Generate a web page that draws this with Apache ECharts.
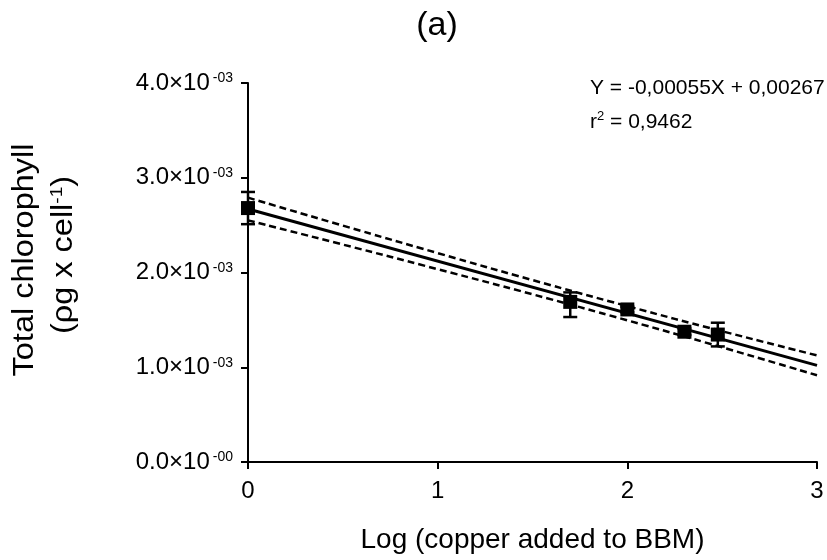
<!DOCTYPE html>
<html>
<head>
<meta charset="utf-8">
<script src="https://cdn.jsdelivr.net/npm/echarts@6/dist/echarts.min.js"></script>
<style>html,body{margin:0;padding:0;background:#fff}#c{width:827px;height:560px}</style>
</head>
<body>
<div id="c"></div>
<script>
// Data
const logCopper   = [0, 1.699, 2, 2.301, 2.477];
const chlorophyll = [0.00268, 0.00169, 0.00161, 0.001375, 0.001345];
const errLow      = [0.00251, 0.00153, 0.00158, 0.00134, 0.00122];
const errHigh     = [0.00285, 0.00179, 0.00164, 0.00141, 0.00147];

const fitX   = [0, 3];
const fitY   = [0.00267, 0.00102];
const bandX     = [0, 0.5, 1, 1.5, 2, 2.5, 3];
const bandUpper = [0.00279, 0.002495, 0.002205, 0.00192, 0.001645, 0.00138, 0.001125];
const bandLower = [0.00255, 0.002295, 0.002035, 0.00177, 0.001495, 0.00121, 0.000915];

const yTickMain = ['0.0×10', '1.0×10', '2.0×10', '3.0×10', '4.0×10'];
const yTickExp  = ['-00', '-03', '-03', '-03', '-03'];
const xTicks    = ['0', '1', '2', '3'];

const FONT = 'Liberation Sans, Arial, sans-serif';
const chart = echarts.init(document.getElementById('c'));

const zip = (a, b) => a.map((v, i) => [v, b[i]]);

chart.setOption({
  backgroundColor: '#fff',
  animation: false,
  textStyle: { fontFamily: FONT, color: '#000' },
  grid: { left: 248, right: 10, top: 83, bottom: 98, containLabel: false },
  xAxis: {
    type: 'value', min: 0, max: 3, interval: 1,
    axisLine: { onZero: false, lineStyle: { color: '#000', width: 2 } },
    axisTick: { show: true, length: 7, lineStyle: { color: '#000', width: 2 } },
    splitLine: { show: false },
    axisLabel: {
      fontSize: 24, color: '#000', fontFamily: FONT, margin: 17,
      formatter: v => xTicks[Math.round(v)]
    },
    name: 'Log (copper added to BBM)',
    nameLocation: 'middle', nameGap: 64,
    nameTextStyle: { fontSize: 28, color: '#000', fontFamily: FONT }
  },
  yAxis: {
    type: 'value', min: 0, max: 0.004, interval: 0.001,
    axisLine: { show: true, lineStyle: { color: '#000', width: 2 } },
    axisTick: { show: true, length: 7, lineStyle: { color: '#000', width: 2 } },
    splitLine: { show: false },
    axisLabel: {
      margin: 15, color: '#000', fontFamily: FONT,
      formatter: v => {
        const i = Math.round(v / 0.001);
        return '{m|' + yTickMain[i] + '}{s|' + yTickExp[i] + '}';
      },
      rich: {
        m: { fontSize: 24, fontFamily: FONT, color: '#000' },
        s: { fontSize: 14, fontFamily: FONT, color: '#000', padding: [0, 0, 9, 3] }
      }
    }
  },
  graphic: [
    { type: 'text', x: 437, y: 9, style: { text: '(a)', font: '34px Liberation Sans, Arial', fill: '#000', align: 'center' } },
    { type: 'text', x: 590, y: 78, style: { text: 'Y = -0,00055X + 0,00267', font: '21px Liberation Sans, Arial', fill: '#000' } },
    { type: 'text', x: 590, y: 110, style: {
        text: '{m|r}{s|2}{m| = 0,9462}',
        rich: {
          m: { fontSize: 21, fontFamily: FONT, fill: '#000' },
          s: { fontSize: 13, fontFamily: FONT, fill: '#000', padding: [0, 0, 11, 0] }
        }
      } },
    { type: 'text', x: 25, y: 260, rotation: Math.PI / 2, scaleX: 1.12,
      style: { text: 'Total chlorophyll', font: '29px Liberation Sans, Arial', fill: '#000', align: 'center', verticalAlign: 'middle' } },
    { type: 'text', x: 64, y: 255, rotation: Math.PI / 2, scaleX: 1.12,
      style: {
        text: '{m|(ρg x cell}{s|-1}{m|)}', align: 'center', verticalAlign: 'middle',
        rich: {
          m: { fontSize: 29, fontFamily: FONT, fill: '#000' },
          s: { fontSize: 17, fontFamily: FONT, fill: '#000', padding: [0, 0, 14, 0] }
        }
      } }
  ],
  series: [
    {
      type: 'line', data: zip(bandX, bandUpper), smooth: true, symbol: 'none',
      lineStyle: { color: '#000', width: 2.5, type: [7, 4] }, z: 2
    },
    {
      type: 'line', data: zip(bandX, bandLower), smooth: true, symbol: 'none',
      lineStyle: { color: '#000', width: 2.5, type: [7, 4] }, z: 2
    },
    {
      type: 'line', data: zip(fitX, fitY), symbol: 'none',
      lineStyle: { color: '#000', width: 3 }, z: 3
    },
    {
      type: 'custom',
      data: logCopper.map((x, i) => [x, errLow[i], errHigh[i]]),
      renderItem: (params, api) => {
        const lo = api.coord([api.value(0), api.value(1)]);
        const hi = api.coord([api.value(0), api.value(2)]);
        const w = 7;
        const st = { stroke: '#000', lineWidth: 2.5 };
        return {
          type: 'group',
          children: [
            { type: 'line', shape: { x1: lo[0], y1: lo[1], x2: hi[0], y2: hi[1] }, style: st },
            { type: 'line', shape: { x1: lo[0] - w, y1: lo[1], x2: lo[0] + w, y2: lo[1] }, style: st },
            { type: 'line', shape: { x1: hi[0] - w, y1: hi[1], x2: hi[0] + w, y2: hi[1] }, style: st }
          ]
        };
      },
      z: 4
    },
    {
      type: 'scatter', data: zip(logCopper, chlorophyll),
      symbol: 'rect', symbolSize: 14,
      itemStyle: { color: '#000', opacity: 1 }, z: 5
    }
  ]
});
</script>
</body>
</html>
